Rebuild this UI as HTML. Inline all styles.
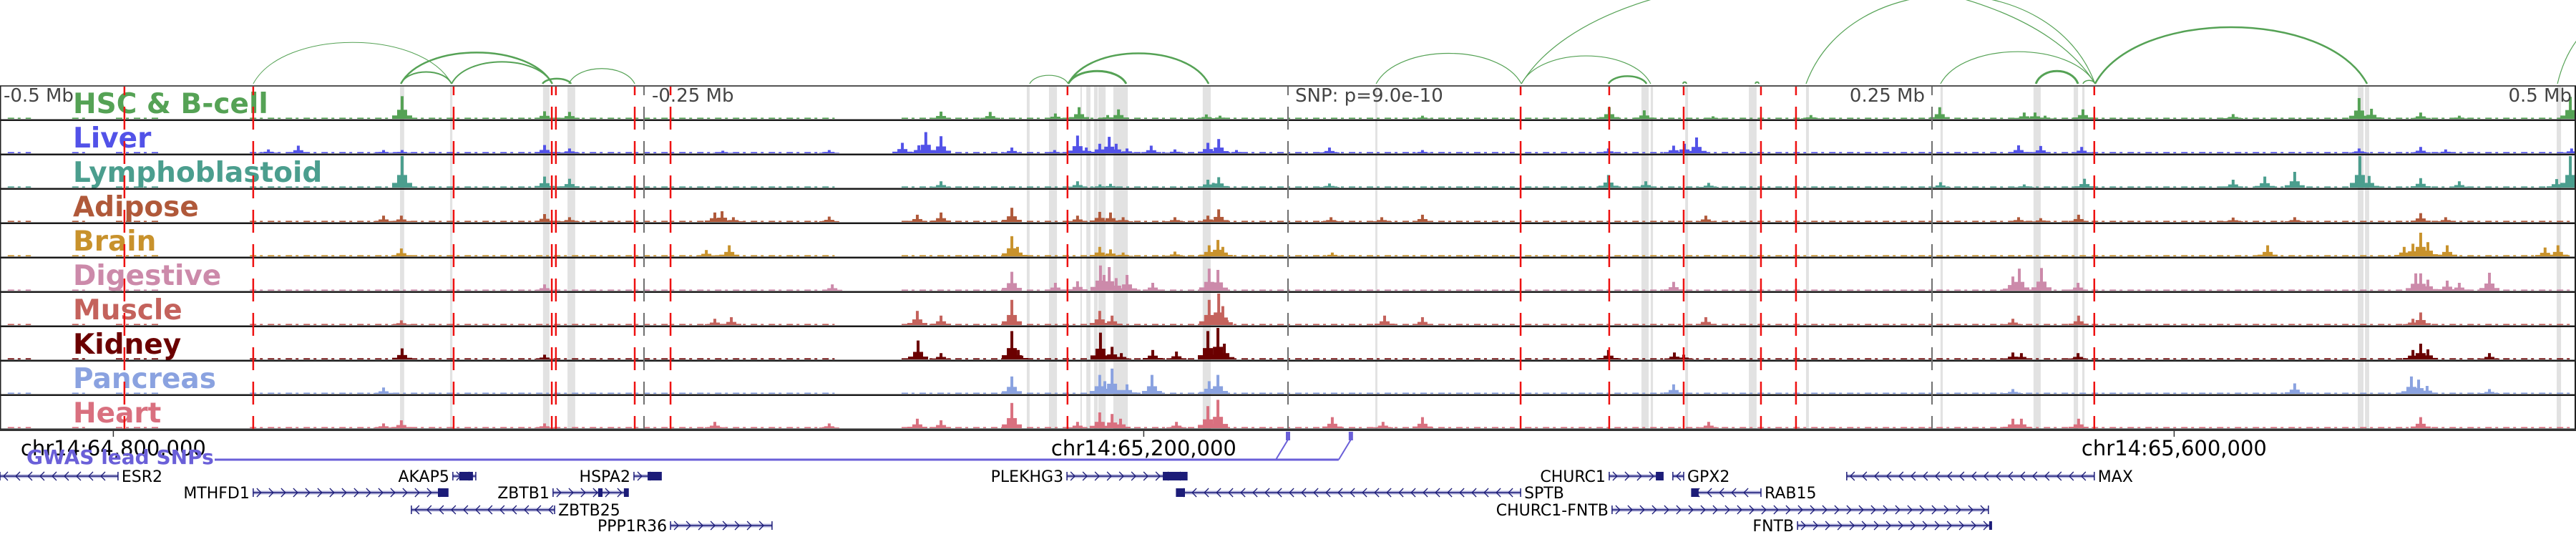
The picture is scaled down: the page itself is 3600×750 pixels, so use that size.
<!DOCTYPE html>
<html><head><meta charset="utf-8"><title>chr14 locus browser</title>
<style>
html,body{margin:0;padding:0;background:#fff;width:3600px;height:750px;overflow:hidden}
svg{display:block}
text{font-family:"DejaVu Sans","Liberation Sans",sans-serif}
</style></head>
<body>
<svg id="chart" xmlns="http://www.w3.org/2000/svg" width="3600" height="750" viewBox="0 0 3600 750">
<g id="arcs"></g>
<g id="bands"></g>
<g id="signals"></g>
<g id="labels"></g>
<g id="vlines"></g>
<g id="axis"></g>
<g id="genes"></g>
</svg>
<script>
// ---- data (positions in kb relative to lead SNP) ----
const trackNames = ["HSC & B-cell","Liver","Lymphoblastoid","Adipose","Brain","Digestive","Muscle","Kidney","Pancreas","Heart"];
const trackColors = ["#55a255","#5252e8","#4b9e8e","#b0593a","#c8922c","#cc8aaa","#c4625c","#6b0000","#8aa2e0","#d9707f"];
const redLinesKb = [-451.7,-401.7,-323.9,-285.8,-284.2,-253.6,-239.7,-85.6,90.3,124.7,153.6,183.6,197.2,313];
const grayLinesKb = [-250,0,250];
const bandStart = [-344.7,-289.2,-279.7,-325.3,-101.4,-92.8,-80.6,-78.3,-75.3,-73.6,-67.8,-33.1,33.9,137.2,140.8,154.2,178.9,201.1,253.3,289.4,305,308.3,415.3,418.1,492.5];
const bandEnd   = [-343.1,-286.7,-276.7,-324.4,-100.3,-89.7,-80,-76.7,-73.9,-70.8,-62.2,-30,34.7,140,141.7,155.3,181.9,202.2,254.2,292.2,306.7,309.2,417.5,419.7,494.2];
const bgStart = [-497,-472,-455,-403,-150,92,312];
const bgEnd   = [-488,-466,-438,-176,88,310,500];
const peaksHSC = [[-343.9,.72],[-288.6,.24],[-278.9,.22],[-134.7,.23],[-115.6,.22],[-90.3,.17],[-81.1,.37],[-65.8,.3],[-70,.12],[-31.7,.14],[-26.4,.1],[52.2,.1],[124.7,.37],[138.3,.27],[165,.08],[203,.12],[253,.37],[285.8,.2],[290,.2],[293.9,.1],[308.6,.3],[366.9,.15],[415.8,.66],[420.6,.32],[439.7,.2],[454.7,.1],[497.8,.7]];
const peaksLiver = [[-395.8,.12],[-384.2,.24],[-351.1,.1],[-343.9,.1],[-288.6,.26],[-278.9,.15],[-219.4,.08],[-178.1,.1],[-149.7,.33],[-143.3,.25],[-140.6,.67],[-134.7,.54],[-107.2,.18],[-90.6,.1],[-81.7,.56],[-78.3,.18],[-73.1,.3],[-69.4,.52],[-66.7,.3],[-62.5,.15],[-53.1,.24],[-43.9,.12],[-31.1,.33],[-26.9,.45],[-20,.1],[16.1,.18],[52.2,.1],[124.4,.15],[149.7,.24],[153.9,.3],[158.6,.5],[283.6,.25],[292.2,.23],[308.1,.2],[415.8,.15],[439.7,.2],[449.4,.12],[498.3,.15]];
const peaksLympho = [[-343.9,1.0],[-288.6,.35],[-278.9,.28],[-134.7,.2],[-81.7,.2],[-68.9,.12],[-73,.1],[-31.1,.25],[-26.9,.33],[-29,.15],[16.1,.13],[124.4,.4],[138.9,.2],[163.3,.15],[253.3,.17],[285.8,.1],[309.2,.28],[366.9,.25],[379.2,.35],[390.8,.5],[416.1,1.0],[419.7,.37],[439.7,.3],[454.7,.2],[492.5,.27],[497.8,1.0]];
const peaksAdipose = [[-351.1,.2],[-344.2,.2],[-288.6,.25],[-278.9,.15],[-222.5,.3],[-219.7,.34],[-215.3,.15],[-178.1,.17],[-143.9,.23],[-134.7,.3],[-107.2,.45],[-81.7,.2],[-73.1,.32],[-68.9,.3],[-64,.15],[-43.9,.15],[-31.1,.2],[-26.9,.4],[16.7,.15],[36.4,.15],[52.2,.23],[162.2,.2],[283.6,.15],[292.2,.12],[306.9,.23],[366.9,.14],[390.8,.15],[439.7,.28],[449.4,.15]];
const peaksBrain = [[-344.2,.25],[-225.8,.2],[-216.9,.35],[-107.2,.64],[-105,.3],[-73.1,.3],[-68.9,.22],[-64,.12],[-43.9,.15],[-30.6,.35],[-27.2,.52],[-25.3,.3],[17.2,.12],[380.3,.35],[433.3,.3],[436.7,.4],[439.7,.75],[442.5,.45],[450,.35],[488,.28],[493,.35]];
const peaksDigestive = [[-288.6,.2],[-176.9,.2],[-107.2,.6],[-90.3,.25],[-81.7,.3],[-72.8,.8],[-71.4,.5],[-69.4,.75],[-66.7,.4],[-62.5,.5],[-52.5,.25],[-30.6,.7],[-27.2,.66],[149.7,.28],[281.4,.45],[283.9,.7],[292.5,.72],[306.7,.25],[437.8,.55],[439.7,.55],[442.5,.35],[450,.32],[454.7,.25],[466.4,.57]];
const peaksMuscle = [[-344.2,.15],[-222.5,.2],[-216.1,.25],[-143.9,.45],[-134.7,.3],[-107.2,.8],[-73.1,.45],[-68.3,.3],[-30.6,.8],[-26.9,1.0],[-25.3,.6],[37.5,.3],[52.2,.25],[162.2,.25],[281.4,.2],[306.9,.3],[436.7,.2],[439.7,.4]];
const peaksKidney = [[-343.9,.35],[-288.6,.15],[-143.6,.6],[-134.7,.2],[-107.2,.9],[-104.7,.3],[-72.8,.85],[-68.3,.4],[-64.7,.2],[-52.5,.3],[-43.3,.25],[-31.1,.9],[-27.2,1.0],[-24.7,.5],[124.4,.3],[150,.22],[153.6,.15],[281.4,.22],[284.7,.2],[306.7,.2],[436.7,.3],[439.7,.5],[442.5,.32],[466.4,.2]];
const peaksPancreas = [[-351.1,.2],[-107.2,.55],[-73.1,.6],[-71.1,.4],[-68.3,.8],[-62.5,.3],[-52.8,.6],[-30.6,.4],[-27.2,.6],[149.7,.3],[281.4,.15],[390.8,.33],[436.1,.55],[438.9,.45],[442.2,.25],[466.4,.15]];
const peaksHeart = [[-351.1,.15],[-344.2,.25],[-288.6,.15],[-222.5,.2],[-178.1,.15],[-143.9,.3],[-134.7,.25],[-107.2,.8],[-81.7,.2],[-73.1,.5],[-68.3,.45],[-65,.3],[-43.3,.2],[-31.1,.7],[-27.2,.9],[17.2,.35],[36.9,.2],[52.2,.35],[163.3,.2],[281.4,.3],[284.7,.3],[306.9,.3],[439.7,.35]];
const trackPeaks = [peaksHSC,peaksLiver,peaksLympho,peaksAdipose,peaksBrain,peaksDigestive,peaksMuscle,peaksKidney,peaksPancreas,peaksHeart];
const arcStart = [-401.7,-344.4,-344.4,-324.7,-289.4,-279.2,-100.3,-85.3,-85.3,34.2,90.6,90.6,124.4,201.1,253.3,290.3,308.6,313.3,492.8,153.3,181.4];
const arcEnd   = [-324.7,-285.6,-324.7,-285.6,-278.3,-253.6,-85.3,-62.8,-30.8,90.6,313.3,140.8,139.2,313.3,313.3,306.7,313.3,418.9,555,154.7,182.8];
const arcScore = [.49,.37,.14,.26,.06,.18,.1,.15,.36,.36,1.25,.33,.09,1.05,.38,.15,.04,.67,.9,.02,.02];
const arcWeight= [1,2.5,2,2,2.5,1.2,1.2,3,2.5,1.2,1.2,1.2,2.5,1.2,1.2,3,1.5,2.5,1.2,2,2];
const axisTicksKb = [-456,-56,344];
const axisTickLabels = ["chr14:64,800,000","chr14:65,200,000","chr14:65,600,000"];
const gwasSnpKb = [0,24.4];
const geneNames  = ["ESR2","AKAP5","HSPA2","MTHFD1","ZBTB1","ZBTB25","PPP1R36","PLEKHG3","CHURC1","GPX2","MAX","SPTB","RAB15","CHURC1-FNTB","FNTB"];
const geneStart  = [-500,-324.2,-253.9,-401.7,-285.3,-340.3,-239.7,-85.8,124.7,149.4,216.9,-43.3,156.7,125.8,197.8];
const geneEnd    = [-454.2,-315.3,-243.3,-326.1,-256.1,-284.7,-200.3,-39.2,145.6,153.6,313,90.3,183.6,271.9,273.1];
const geneRow    = [0,0,0,1,1,2,3,0,0,0,0,1,1,2,3];
const geneStrand = [-1,1,1,1,1,-1,1,1,1,-1,-1,-1,-1,1,1];
const geneLabelSide = ["R","L","L","L","L","R","L","L","L","R","R","R","R","L","L"];
const geneExons  = [[],[[-321.7,-316.4]],[[-248.6,-243.3]],[[-330,-326.1]],[[-267.8,-266.1],[-257.8,-256.1]],[],[],[[-48.6,-39.2]],[[142.8,145.6]],[],[],[[-43.3,-40]],[[156.7,159.4]],[],[[272.2,273.1]]];

// ---- scales ----
const NS = "http://www.w3.org/2000/svg";
const X = kb => 1800 + kb * 3.6;
const TRACK_TOP = 120, TRACK_H = 48, SIG_H = 44;
const trackTop = i => TRACK_TOP + TRACK_H * i;
function mk(tag, attrs, parent){const e=document.createElementNS(NS,tag);for(const k in attrs)e.setAttribute(k,attrs[k]);parent.appendChild(e);return e;}
const gArcs=document.getElementById('arcs'),gBands=document.getElementById('bands'),gSig=document.getElementById('signals'),
gLab=document.getElementById('labels'),gV=document.getElementById('vlines'),gAx=document.getElementById('axis'),gGenes=document.getElementById('genes');

const ARC_BASE=117, ARC_MAX=118;
for(let i=0;i<arcStart.length;i++){
  const x1=X(arcStart[i]),x2=X(arcEnd[i]),w=x2-x1,h=arcScore[i]*ARC_MAX;
  const p=mk('path',{d:`M${x1},${ARC_BASE} C${x1+w*0.15},${ARC_BASE-h*1.333} ${x2-w*0.15},${ARC_BASE-h*1.333} ${x2},${ARC_BASE}`,fill:'none',stroke:'#55a255','stroke-width':arcWeight[i]},gArcs);
  
  
}

for(let i=0;i<bandStart.length;i++){
  const r=mk('rect',{x:X(bandStart[i]),y:121,width:Math.max(2,X(bandEnd[i])-X(bandStart[i])),height:479,fill:'#e2e2e2'},gBands);
  
  
}

for(let t=0;t<trackNames.length;t++){
  const top=trackTop(t), base=top+46, col=trackColors[t];
  const g=mk('g',{},gSig);
  
  
  for(let b=0;b<bgStart.length;b++){
    mk('line',{x1:X(bgStart[b]),x2:X(bgEnd[b]),y1:base-0.8,y2:base-0.8,stroke:col,'stroke-width':1.6,'stroke-dasharray':'9 5 4 7'},g);
  }
  for(const pk of trackPeaks[t]){
    const x=X(pk[0]),h=pk[1]*SIG_H;
    const bar=mk('rect',{x:x-2,y:base-h,width:4,height:h,fill:col},g);
    
    
    mk('rect',{x:x-7,y:base-h*0.4,width:14,height:h*0.4,fill:col},g);
    mk('rect',{x:x-14,y:base-h*0.15,width:28,height:h*0.15,fill:col},g);
  }
  const sep=mk('rect',{x:0,y:top+46.5,width:3600,height:2.5,fill:'#1a1a1a'},gSig);
  
  
  const lab=mk('text',{x:102,y:top+38,fill:col,'font-size':39,'font-weight':'bold'},gLab);
  lab.textContent=trackNames[t];
  
  
}
mk('rect',{x:0,y:119,width:3600,height:2,fill:'#555'},gSig);
mk('rect',{x:0,y:120,width:1.5,height:481,fill:'#222'},gSig);
mk('rect',{x:3598,y:120,width:2,height:481,fill:'#222'},gSig);

const distTxt=[["-0.5 Mb",5,'start'],["-0.25 Mb",911,'start'],["SNP: p=9.0e-10",1810,'start'],["0.25 Mb",2690,'end'],["0.5 Mb",3594,'end']];
for(const d of distTxt){
  const tx=mk('text',{x:d[1],y:142,fill:'#444','font-size':26,'text-anchor':d[2]},gLab);
  tx.textContent=d[0];
  
  
}

for(const kb of grayLinesKb){
  const l=mk('line',{x1:X(kb),x2:X(kb),y1:121,y2:600,stroke:'#707070','stroke-width':2,'stroke-dasharray':'32 16','stroke-dashoffset':20},gV);
  
  
}
for(const kb of redLinesKb){
  const l=mk('line',{x1:X(kb),x2:X(kb),y1:121,y2:600,stroke:'#ee1111','stroke-width':2.5,'stroke-dasharray':'32 16','stroke-dashoffset':20},gV);
  
  
}

const axl=mk('rect',{x:0,y:599,width:3600,height:3,fill:'#333'},gAx);


for(let i=0;i<axisTicksKb.length;i++){
  const x=X(axisTicksKb[i]);
  mk('line',{x1:x,x2:x,y1:601,y2:610,stroke:'#333','stroke-width':1.5},gAx);
  const tx=mk('text',{x:x,y:636,'font-size':29,'text-anchor':'middle',fill:'#000'},gAx);
  tx.textContent=axisTickLabels[i];
  
  
}

const gw=mk('text',{x:37,y:648,'font-size':28,'font-weight':'bold',fill:'#6a5fd8'},gGenes);
gw.textContent='GWAS lead SNPs';


const lastSnp=X(gwasSnpKb[gwasSnpKb.length-1]);
mk('line',{x1:300,x2:lastSnp-17,y1:642,y2:642,stroke:'#6a5fd8','stroke-width':3},gGenes);
for(const kb of gwasSnpKb){
  const x=X(kb);
  mk('polyline',{points:`${x-17},642 ${x},614`,fill:'none',stroke:'#6a5fd8','stroke-width':2},gGenes);
  const m=mk('rect',{x:x-3,y:603,width:6,height:12,fill:'#6a5fd8'},gGenes);
  
  
}

const ROW_Y=[665,688,712,734];
for(let i=0;i<geneNames.length;i++){
  const y=ROW_Y[geneRow[i]],x1=X(geneStart[i]),x2=X(geneEnd[i]);
  const g=mk('g',{},gGenes);
  
  
  mk('line',{x1:x1,x2:x2,y1:y,y2:y,stroke:'#b4b4dc','stroke-width':5},g);
  mk('line',{x1:x1,x2:x2,y1:y,y2:y,stroke:'#1c1c78','stroke-width':1.6},g);
  const s=geneStrand[i];
  let d='';
  for(let x=x1+8;x<x2-4;x+=17){ d+= s>0?`M${x-3},${y-6} L${x+3},${y} L${x-3},${y+6} `:`M${x+3},${y-6} L${x-3},${y} L${x+3},${y+6} `; }
  mk('path',{d:d,fill:'none',stroke:'#1c1c78','stroke-width':1.3},g);
  mk('line',{x1:x1,x2:x1,y1:y-6,y2:y+6,stroke:'#1c1c78','stroke-width':1.5},g);
  mk('line',{x1:x2,x2:x2,y1:y-6,y2:y+6,stroke:'#1c1c78','stroke-width':1.5},g);
  for(const ex of geneExons[i]){ mk('rect',{x:X(ex[0]),y:y-6,width:Math.max(3,X(ex[1])-X(ex[0])),height:12,fill:'#1c1c78'},g); }
  const right=geneLabelSide[i]==='R';
  const tx=mk('text',{x:right?x2+5:x1-5,y:y+8,'font-size':22,'text-anchor':right?'start':'end',fill:'#000'},g);
  tx.textContent=geneNames[i];
  
  
}
</script>
</body></html>
